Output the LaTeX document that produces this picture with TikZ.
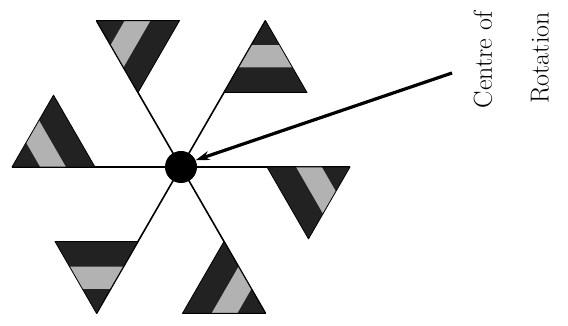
\documentclass[tikz,border=0pt]{standalone}
\usepackage{tikz}
\usetikzlibrary{arrows.meta,calc}
\definecolor{flagdark}{RGB}{34,34,34}
\definecolor{flaglight}{RGB}{178,178,178}
\tikzset{
  spoke/.style={draw=black,line width=1.6pt},
  flagedge/.style={draw=black,line width=0.8pt,line join=round},
  hub/.style={circle,fill=black,minimum size=32pt,inner sep=0pt},
  pointer/.style={-{Stealth[length=14pt,width=9pt]},line width=3.2pt,draw=black},
  note/.style={rotate=90,font=\fontsize{26}{30}\selectfont,inner sep=0pt}
}

\begin{document}
\begin{tikzpicture}[x=1pt,y=1pt]
  \useasboundingbox (0,0) rectangle (568,326);
  \coordinate (c) at (181,159);
  % spokes
  \foreach \a in {0,60,...,300}
    \draw[spoke] (c) -- ++(\a:169);
  % striped flags, one per spoke
  \foreach \a in {0,60,...,300}{
    \coordinate (in) at ($(c)+(\a:86)$);
    \coordinate (out) at ($(c)+(\a:169)$);
    \coordinate (tip) at ($(in)!1!-60:(out)$);
    \fill[flagdark] (out) -- (in) -- (tip) -- cycle;
    \fill[flaglight] ($(out)!0.34!(in)$) -- ($(out)!0.65!(in)$)
      -- ($(out)!0.65!(tip)$) -- ($(out)!0.34!(tip)$) -- cycle;
    \draw[flagedge] (out) -- (in) -- (tip) -- cycle;
  }
  \node[hub] (hub) at (c) {};
  \node[note] (centre) at (483,266) {Centre of};
  \node[note] (rotation) at (540,268) {Rotation};
  \coordinate (tail) at (452,253);
  \draw[pointer] (tail) -- (hub.25);
\end{tikzpicture}
\end{document}
